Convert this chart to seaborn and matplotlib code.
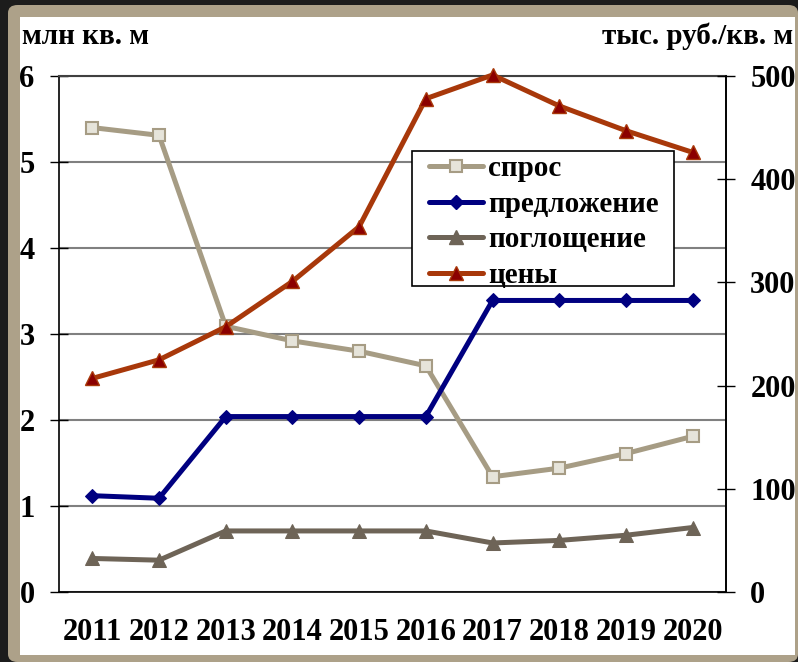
import numpy as np
import pandas as pd
import matplotlib
matplotlib.use("Agg")
import matplotlib.pyplot as plt
import seaborn as sns
from matplotlib.patches import FancyBboxPatch, Rectangle
from matplotlib.lines import Line2D

# --- data ---
years = ["2011", "2012", "2013", "2014", "2015", "2016", "2017", "2018", "2019", "2020"]
demand = [5.40, 5.31, 3.09, 2.92, 2.80, 2.63, 1.34, 1.44, 1.61, 1.81]
supply = [1.12, 1.09, 2.04, 2.04, 2.04, 2.04, 3.39, 3.39, 3.39, 3.39]
absorption = [0.39, 0.37, 0.71, 0.71, 0.71, 0.71, 0.57, 0.60, 0.66, 0.75]
prices = [207, 225, 257, 301, 354, 478, 501, 471, 447, 426]

sns.set_style("white")
plt.rcParams["font.family"] = ["Liberation Serif", "DejaVu Serif"]
plt.rcParams["font.weight"] = "bold"
plt.rcParams["text.color"] = "black"
plt.rcParams["xtick.color"] = "black"
plt.rcParams["ytick.color"] = "black"

W, H = 798, 662
fig = plt.figure(figsize=(W / 100, H / 100), dpi=100)
fig.patch.set_facecolor("#1c1c1c")

# --- frame: tan border with white panel ---
fig.patches.append(FancyBboxPatch((8 / W, 0), 790 / W, (H - 5) / H, boxstyle="round,pad=0,rounding_size=0.012",
                                  transform=fig.transFigure, facecolor="#ada189", edgecolor="none", zorder=-2))
fig.patches.append(Rectangle((20 / W, 7 / H), 775 / W, (H - 17 - 7) / H,
                             transform=fig.transFigure, facecolor="white", edgecolor="none", zorder=-1))

ax = fig.add_axes([59 / W, 1 - 592 / H, (726 - 59) / W, (592 - 76) / H])
ax.set_facecolor("none")
x = np.arange(len(years))

sns.lineplot(x=x, y=demand, ax=ax, color="#a69c84", lw=3.6, marker="s", markersize=9,
             markerfacecolor="#e6e4da", markeredgecolor="#a69c84", markeredgewidth=1.5, zorder=3)
sns.lineplot(x=x, y=supply, ax=ax, color="#000080", lw=3.6, marker="D", markersize=7,
             markerfacecolor="#000080", markeredgecolor="#000080", zorder=4)
sns.lineplot(x=x, y=absorption, ax=ax, color="#6e6457", lw=3.6, marker="^", markersize=10,
             markerfacecolor="#6e6457", markeredgecolor="#6e6457", zorder=3)

ax.set_xlim(-0.5, 9.5)
ax.set_ylim(0, 6)
ax.set_yticks(range(0, 7))
ax.set_yticklabels([str(v) for v in range(0, 7)], fontsize=22, fontweight="bold")
ax.yaxis.grid(True, color="#808080", lw=1.5)
ax.set_axisbelow(True)

ax.set_xticks(np.arange(-0.5, 10, 1))
ax.set_xticklabels([])
ax.set_xticks(x, minor=True)
ax.set_xticklabels(years, minor=True, fontsize=22, fontweight="bold")
ax.tick_params(axis="x", which="major", direction="inout", length=13, width=1, color="black")
ax.tick_params(axis="x", which="minor", length=0, pad=19)
ax.tick_params(axis="y", direction="inout", length=13, width=1, color="black", pad=11)

for s in ["left", "bottom", "right"]:
    ax.spines[s].set_color("black")
    ax.spines[s].set_linewidth(1.2)
ax.spines["top"].set_color("#404040")
ax.spines["top"].set_linewidth(1.5)

# --- price axis ---
ax2 = ax.twinx()
sns.lineplot(x=x, y=prices, ax=ax2, color="#a8380a", lw=3.6, marker="^", markersize=10,
             markerfacecolor="#8b0000", markeredgecolor="#a8380a", markeredgewidth=1, zorder=5, clip_on=False)
ax2.set_ylim(0, 500)
ax2.set_yticks(range(0, 501, 100))
ax2.set_yticklabels([str(v) for v in range(0, 501, 100)], fontsize=22, fontweight="bold")
ax2.tick_params(axis="y", direction="inout", length=13, width=1, color="black", pad=11)
ax2.spines["right"].set_color("black")
ax2.spines["right"].set_linewidth(1.2)
for s in ["left", "bottom", "top"]:
    ax2.spines[s].set_visible(False)
ax2.set_xlim(-0.5, 9.5)

# --- axis titles ---
fig.text(22 / W, 1 - 36 / H, "млн кв. м", fontsize=21, fontweight="bold", ha="left", va="center")
fig.text(793 / W, 1 - 36 / H, "тыс. руб./кв. м", fontsize=21, fontweight="bold", ha="right", va="center")

# --- legend (frame drawn separately for wider side padding) ---
fig.patches.append(Rectangle((412 / W, 1 - 286 / H), (674 - 412) / W, (286 - 151) / H,
                             transform=fig.transFigure, facecolor="white", edgecolor="black",
                             lw=1.2, zorder=4))
handles = [
    Line2D([], [], color="#a69c84", lw=3.6, marker="s", markersize=9, markerfacecolor="#e6e4da",
           markeredgecolor="#a69c84", markeredgewidth=1.5),
    Line2D([], [], color="#000080", lw=3.6, marker="D", markersize=7),
    Line2D([], [], color="#6e6457", lw=3.6, marker="^", markersize=10),
    Line2D([], [], color="#a8380a", lw=3.6, marker="^", markersize=10, markerfacecolor="#8b0000"),
]
labels = ["спрос", "предложение", "поглощение", "цены"]
leg = fig.legend(handles, labels, loc="upper left", bbox_to_anchor=(429 / W, 1 - 155 / H),
                 bbox_transform=fig.transFigure, fontsize=21, frameon=False,
                 handlelength=1.85, handletextpad=0.18, labelspacing=0.3, borderpad=0, borderaxespad=0)
leg.set_zorder(5)
for t in leg.get_texts():
    t.set_fontweight("bold")

fig.savefig("out.png", dpi=100, facecolor=fig.get_facecolor())
